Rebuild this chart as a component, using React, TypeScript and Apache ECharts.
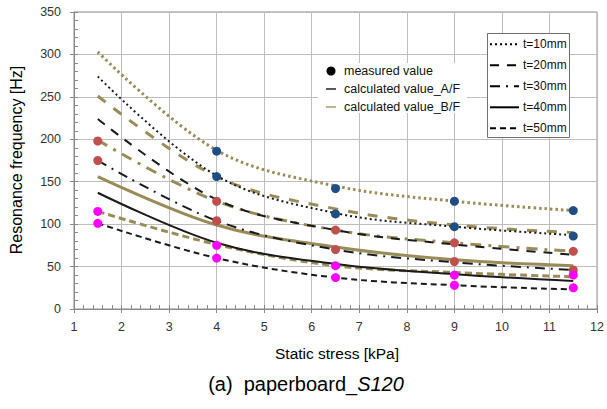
import React, { useEffect, useRef } from "react";
import * as echarts from "echarts";

// Static stress at which the resonance frequency was measured / calculated [kPa]
const stress = [1.5, 4, 6.5, 9, 11.5];

// Calculated values, A/F (black) [Hz]
const afT10 = [274, 157, 113, 97, 87];
const afT20 = [224, 129, 93, 76, 64];
const afT30 = [175, 104, 70, 55, 46];
const afT40 = [137, 78, 53, 41, 33];
const afT50 = [101, 60, 37, 28, 23];

// Calculated values, B/F (olive) [Hz]
const bfT10 = [303, 187, 145, 127, 116];
const bfT20 = [251, 156, 118, 99, 90];
const bfT30 = [199, 127, 93, 78, 68];
const bfT40 = [156, 99, 73, 58, 51];
const bfT50 = [115, 76, 51, 43, 38];

// Measured values [stress, Hz]
const measuredBlue: [number, number][] = [
  [4, 186], [4, 156], [6.5, 142], [6.5, 112], [9, 127], [9, 97], [11.5, 116], [11.5, 86],
];
const measuredRed: [number, number][] = [
  [1.5, 198], [1.5, 175], [4, 127], [4, 104], [6.5, 93], [6.5, 70], [9, 78], [9, 56], [11.5, 68], [11.5, 46],
];
const measuredMagenta: [number, number][] = [
  [1.5, 115], [1.5, 101], [4, 75], [4, 60], [6.5, 51], [6.5, 37], [9, 40], [9, 28], [11.5, 40], [11.5, 25],
];

const thicknessLabels = ["t=10mm", "t=20mm", "t=30mm", "t=40mm", "t=50mm"];
const legendLabels = ["measured value", "calculated value_A/F", "calculated value_B/F"];

const FONT = "'Liberation Sans', Arial, sans-serif";
const BLACK = "#1a1a1a";
const OLIVE = "#9a8c58";
const BLUE = "#1f4e84";
const RED = "#c0504d";
const MAGENTA = "#ff00ff";

const blackDash: (number[] | "solid")[] = [[2, 3], [9, 8], [10, 6, 2, 6], "solid", [6, 4]];
const oliveDash: (number[] | "solid")[] = [[2.5, 3], [10, 10], [11, 7, 3, 7], "solid", [7, 4]];

const toPts = (ys: number[]) => stress.map((x, i) => [x, ys[i]]);

export default function App() {
  const ref = useRef<HTMLDivElement>(null);

  useEffect(() => {
    document.body.style.margin = "0";
    if (!ref.current) return;
    const chart = echarts.init(ref.current, undefined, { renderer: "svg" });

    const afAll = [afT10, afT20, afT30, afT40, afT50];
    const bfAll = [bfT10, bfT20, bfT30, bfT40, bfT50];

    const lineSeries: any[] = [];
    bfAll.forEach((ys, i) => {
      lineSeries.push({
        type: "line",
        name: "B/F " + thicknessLabels[i],
        data: toPts(ys),
        smooth: 0.35,
        showSymbol: false,
        symbol: "none",
        lineStyle: { color: OLIVE, width: 3, type: oliveDash[i] },
        z: 2,
      });
    });
    afAll.forEach((ys, i) => {
      lineSeries.push({
        type: "line",
        name: "A/F " + thicknessLabels[i],
        data: toPts(ys),
        smooth: 0.35,
        showSymbol: false,
        symbol: "none",
        lineStyle: { color: BLACK, width: 2, type: blackDash[i] },
        z: 3,
      });
    });

    const scatter = (name: string, data: [number, number][], color: string) => ({
      type: "scatter",
      name,
      data,
      symbol: "circle",
      symbolSize: 9,
      itemStyle: { color, opacity: 1 },
      z: 5,
    });

    // legend graphics
    const leg1X = 318, leg1Y = 63;
    const leg2X = 487.5, leg2Y = 33.5;
    const rowsY = [44.3, 65.3, 86.3, 107.3, 128.3];

    const graphics: any[] = [
      {
        type: "rect",
        shape: { x: leg1X, y: leg1Y, width: 149, height: 50 },
        style: { fill: "#fff" },
        z: 10,
      },
      {
        type: "circle",
        shape: { cx: 331, cy: 71, r: 4.5 },
        style: { fill: "#000" },
        z: 11,
      },
      {
        type: "line",
        shape: { x1: 326, y1: 89, x2: 336, y2: 89 },
        style: { stroke: "#000", lineWidth: 1.3 },
        z: 11,
      },
      {
        type: "line",
        shape: { x1: 326, y1: 107, x2: 336, y2: 107 },
        style: { stroke: OLIVE, lineWidth: 1.3 },
        z: 11,
      },
      ...legendLabels.map((t, i) => ({
        type: "text",
        x: 344,
        y: [71, 89, 107][i],
        style: {
          text: t,
          fill: "#111",
          font: `12.5px ${FONT}`,
          verticalAlign: "middle",
        },
        z: 11,
      })),
      {
        type: "rect",
        shape: { x: leg2X, y: leg2Y, width: 82, height: 104 },
        style: { fill: "#fff", stroke: "#6e6e6e", lineWidth: 1 },
        z: 10,
      },
      ...thicknessLabels.map((_, i) => ({
        type: "line",
        shape: { x1: 490, y1: rowsY[i], x2: 519, y2: rowsY[i] },
        style: {
          stroke: "#000",
          lineWidth: 2,
          lineDash: blackDash[i] === "solid" ? null : blackDash[i],
        },
        z: 11,
      })),
      ...thicknessLabels.map((t, i) => ({
        type: "text",
        x: 523,
        y: rowsY[i],
        style: {
          text: t,
          fill: "#111",
          font: `12px ${FONT}`,
          verticalAlign: "middle",
        },
        z: 11,
      })),
      {
        type: "text",
        x: 16,
        y: 160,
        rotation: Math.PI / 2,
        style: {
          text: "Resonance frequency [Hz]",
          fill: "#000",
          font: `16px ${FONT}`,
          align: "center",
          verticalAlign: "middle",
        },
      },
      {
        type: "text",
        x: 337,
        y: 353,
        style: {
          text: "Static stress [kPa]",
          fill: "#000",
          font: `15.5px ${FONT}`,
          align: "center",
          verticalAlign: "middle",
        },
      },
      {
        type: "text",
        x: 306,
        y: 384,
        style: {
          text: "(a)  paperboard_{i|S120}",
          fill: "#000",
          font: `20px ${FONT}`,
          align: "center",
          verticalAlign: "middle",
          rich: {
            i: { fontStyle: "italic", fontSize: 20, fontFamily: FONT, fill: "#000" },
          },
        },
      },
    ];

    const gridColor = "#bdbdbd";
    const axisColor = "#8a8a8a";

    chart.setOption({
      animation: false,
      textStyle: { fontFamily: FONT },
      grid: {
        left: 74,
        right: 5,
        top: 12,
        bottom: 100,
        show: true,
        borderColor: axisColor,
        borderWidth: 1,
        backgroundColor: "transparent",
      },
      xAxis: [
        {
          type: "value",
          min: 1,
          max: 12,
          interval: 1,
          position: "bottom",
          axisLine: { show: true, onZero: false, lineStyle: { color: axisColor } },
          axisTick: { show: true, inside: true, length: 4, lineStyle: { color: axisColor } },
          minorTick: { show: true, splitNumber: 5, length: 4, lineStyle: { color: axisColor } },
          splitLine: { show: true, lineStyle: { color: gridColor, width: 1 } },
          axisLabel: { color: "#333", fontSize: 12.5, margin: 11, fontFamily: FONT },
        },
        {
          type: "value",
          min: 1,
          max: 12,
          interval: 1,
          position: "bottom",
          axisLine: { show: false },
          axisTick: { show: true, inside: false, length: 4, lineStyle: { color: axisColor } },
          splitLine: { show: false },
          axisLabel: { show: false },
        },
      ],
      yAxis: [
        {
          type: "value",
          min: 0,
          max: 350,
          interval: 50,
          position: "left",
          axisLine: { show: true, onZero: false, lineStyle: { color: axisColor } },
          axisTick: { show: true, inside: true, length: 4, lineStyle: { color: axisColor } },
          minorTick: { show: true, splitNumber: 5, length: 4, lineStyle: { color: axisColor } },
          splitLine: { show: true, lineStyle: { color: gridColor, width: 1 } },
          axisLabel: { color: "#333", fontSize: 12.5, margin: 13, fontFamily: FONT },
        },
        {
          type: "value",
          min: 0,
          max: 350,
          interval: 50,
          position: "left",
          axisLine: { show: false },
          axisTick: { show: true, inside: false, length: 4, lineStyle: { color: axisColor } },
          splitLine: { show: false },
          axisLabel: { show: false },
        },
      ],
      series: [
        ...lineSeries,
        scatter("measured (blue)", measuredBlue, BLUE),
        scatter("measured (red)", measuredRed, RED),
        scatter("measured (magenta)", measuredMagenta, MAGENTA),
      ],
      graphic: graphics,
    });

    return () => chart.dispose();
  }, []);

  return <div ref={ref} style={{ width: 607, height: 409 }} />;
}
